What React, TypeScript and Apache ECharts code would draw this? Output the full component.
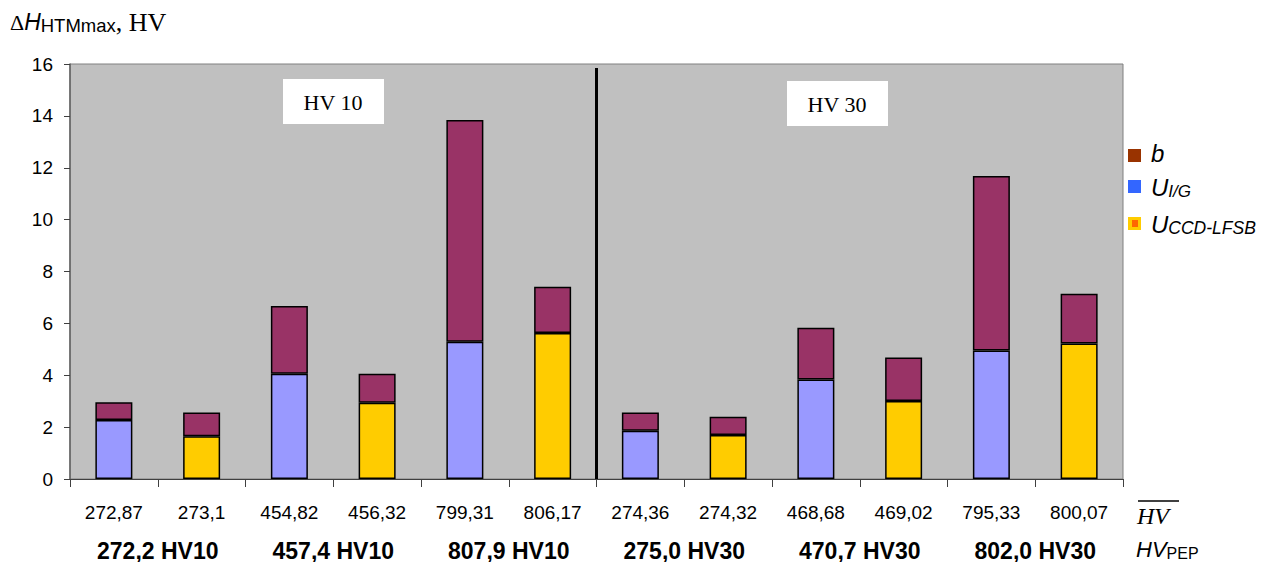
import React, { useEffect, useRef } from "react";
import * as echarts from "echarts";

const hvMeanLabels = ["272,87", "273,1", "454,82", "456,32", "799,31", "806,17", "274,36", "274,32", "468,68", "469,02", "795,33", "800,07"];
const hvPepLabels = ["272,2 HV10", "457,4 HV10", "807,9 HV10", "275,0 HV30", "470,7 HV30", "802,0 HV30"];
const uIG = [2.27, null, 4.06, null, 5.29, null, 1.86, null, 3.84, null, 4.95, null];
const uCCD = [null, 1.65, null, 2.94, null, 5.63, null, 1.7, null, 3.01, null, 5.22];
const bValues = [0.69, 0.91, 2.61, 1.12, 8.55, 1.78, 0.7, 0.7, 1.99, 1.67, 6.73, 1.92];
const yTicks = { min: 0, max: 16, interval: 2 };
const separatorAt = 6;
const separatorTop = 15.85;

const SANS = "'Liberation Sans', Arial, sans-serif";
const SERIF = "'Liberation Serif', 'Times New Roman', serif";

export default function App() {
  const ref = useRef<HTMLDivElement>(null);
  useEffect(() => {
    if (!ref.current) return;
    const chart = echarts.init(ref.current, null, { renderer: "svg" });
    const barBorder = { borderColor: "#000", borderWidth: 1.5 };
    const option: any = {
      animation: false,
      backgroundColor: "#fff",
      grid: {
        left: 70,
        right: 139,
        top: 64,
        bottom: 83,
        show: true,
        backgroundColor: "#C0C0C0",
        borderColor: "#808080",
        borderWidth: 1,
        containLabel: false,
      },
      xAxis: [
        {
          type: "category",
          data: hvMeanLabels,
          position: "bottom",
          axisLine: { show: true, lineStyle: { color: "#404040", width: 1 } },
          axisTick: { show: true, length: 8, interval: 0, lineStyle: { color: "#404040" } },
          axisLabel: { interval: 0, margin: 24, fontFamily: SANS, fontSize: 19, color: "#000" },
          splitLine: { show: false },
        },
        {
          type: "category",
          data: hvPepLabels,
          position: "bottom",
          offset: 0,
          axisLine: { show: false },
          axisTick: { show: false },
          axisLabel: { interval: 0, margin: 60, fontFamily: SANS, fontSize: 23, fontWeight: "bold", color: "#000" },
          splitLine: { show: false },
        },
        {
          type: "value",
          min: 0,
          max: hvMeanLabels.length,
          show: false,
        },
      ],
      yAxis: {
        type: "value",
        min: yTicks.min,
        max: yTicks.max,
        interval: yTicks.interval,
        axisLine: { show: true, lineStyle: { color: "#606060", width: 1.5 } },
        axisTick: { show: true, length: 6, lineStyle: { color: "#404040" } },
        axisLabel: { margin: 17, fontFamily: SANS, fontSize: 19, color: "#000" },
        splitLine: { show: false },
      },
      series: [
        {
          name: "U_I/G",
          type: "bar",
          stack: "total",
          barWidth: 37,
          data: uIG,
          itemStyle: { color: "#9999FF", ...barBorder },
        },
        {
          name: "U_CCD-LFSB",
          type: "bar",
          stack: "total",
          barWidth: 37,
          data: uCCD,
          itemStyle: { color: "#FFCC00", ...barBorder },
        },
        {
          name: "b",
          type: "bar",
          stack: "total",
          barWidth: 37,
          data: bValues,
          itemStyle: { color: "#993366", ...barBorder },
        },
        {
          type: "line",
          xAxisIndex: 2,
          yAxisIndex: 0,
          data: [
            [separatorAt, yTicks.min],
            [separatorAt, separatorTop],
          ],
          symbol: "none",
          lineStyle: { color: "#000", width: 3 },
          silent: true,
          z: 5,
        },
      ],
      graphic: [
        // axis title
        {
          type: "text",
          x: 10,
          y: 22,
          style: {
            text: "{d|Δ}{h|H}{s|HTMmax}{t|, HV}",
            verticalAlign: "middle",
            align: "left",
            fill: "#000",
            rich: {
              d: { fontFamily: SERIF, fontSize: 22, lineHeight: 26, fill: "#000" },
              h: { fontFamily: SANS, fontSize: 23, fontStyle: "italic", lineHeight: 26, fill: "#000" },
              s: { fontFamily: SANS, fontSize: 18.5, lineHeight: 12, verticalAlign: "bottom", fill: "#000" },
              t: { fontFamily: SERIF, fontSize: 26, lineHeight: 26, fill: "#000" },
            },
          },
        },
        // HV 10 box
        { type: "rect", shape: { x: 283, y: 79, width: 101, height: 45 }, style: { fill: "#fff" } },
        {
          type: "text",
          x: 333,
          y: 102,
          style: { text: "HV 10", fontFamily: SERIF, fontSize: 22, fill: "#000", align: "center", verticalAlign: "middle" },
        },
        // HV 30 box
        { type: "rect", shape: { x: 787, y: 81, width: 101, height: 45 }, style: { fill: "#fff" } },
        {
          type: "text",
          x: 837,
          y: 104,
          style: { text: "HV 30", fontFamily: SERIF, fontSize: 22, fill: "#000", align: "center", verticalAlign: "middle" },
        },
        // legend
        { type: "rect", shape: { x: 1128, y: 149, width: 13, height: 13 }, style: { fill: "#993300" } },
        {
          type: "text",
          x: 1151,
          y: 153,
          style: { text: "b", fontFamily: SANS, fontSize: 24, fontStyle: "italic", fill: "#000", verticalAlign: "middle" },
        },
        { type: "rect", shape: { x: 1128, y: 180, width: 13, height: 13 }, style: { fill: "#3366FF" } },
        {
          type: "text",
          x: 1151,
          y: 187,
          style: {
            text: "{m|U}{s|I/G}",
            verticalAlign: "middle",
            fill: "#000",
            rich: {
              m: { fontFamily: SANS, fontSize: 24, fontStyle: "italic", lineHeight: 26, fill: "#000" },
              s: { fontFamily: SANS, fontSize: 17, fontStyle: "italic", lineHeight: 12, verticalAlign: "bottom", fill: "#000" },
            },
          },
        },
        { type: "rect", shape: { x: 1128, y: 217, width: 13, height: 13 }, style: { fill: "#FFCC00" } },
        { type: "rect", shape: { x: 1132, y: 220, width: 6, height: 7 }, style: { fill: "#FF6600" } },
        {
          type: "text",
          x: 1151,
          y: 224,
          style: {
            text: "{m|U}{s|CCD-LFSB}",
            verticalAlign: "middle",
            fill: "#000",
            rich: {
              m: { fontFamily: SANS, fontSize: 24, fontStyle: "italic", lineHeight: 26, fill: "#000" },
              s: { fontFamily: SANS, fontSize: 17.5, fontStyle: "italic", lineHeight: 12, verticalAlign: "bottom", fill: "#000" },
            },
          },
        },
        // right-side row titles
        { type: "line", shape: { x1: 1138, y1: 501, x2: 1179, y2: 501 }, style: { stroke: "#000", lineWidth: 1.5 } },
        {
          type: "text",
          x: 1137,
          y: 516,
          style: { text: "HV", fontFamily: SERIF, fontSize: 24, fontStyle: "italic", fill: "#000", verticalAlign: "middle" },
        },
        {
          type: "text",
          x: 1136,
          y: 549,
          style: {
            text: "{m|HV}{s|PEP}",
            verticalAlign: "middle",
            fill: "#000",
            rich: {
              m: { fontFamily: SANS, fontSize: 22, fontStyle: "italic", lineHeight: 24, fill: "#000" },
              s: { fontFamily: SANS, fontSize: 16, lineHeight: 12, verticalAlign: "bottom", fill: "#000" },
            },
          },
        },
      ],
    };
    chart.setOption(option);
    return () => chart.dispose();
  }, []);
  return <div ref={ref} style={{ position: "absolute", left: 0, top: 0, width: 1262, height: 562 }} />;
}
